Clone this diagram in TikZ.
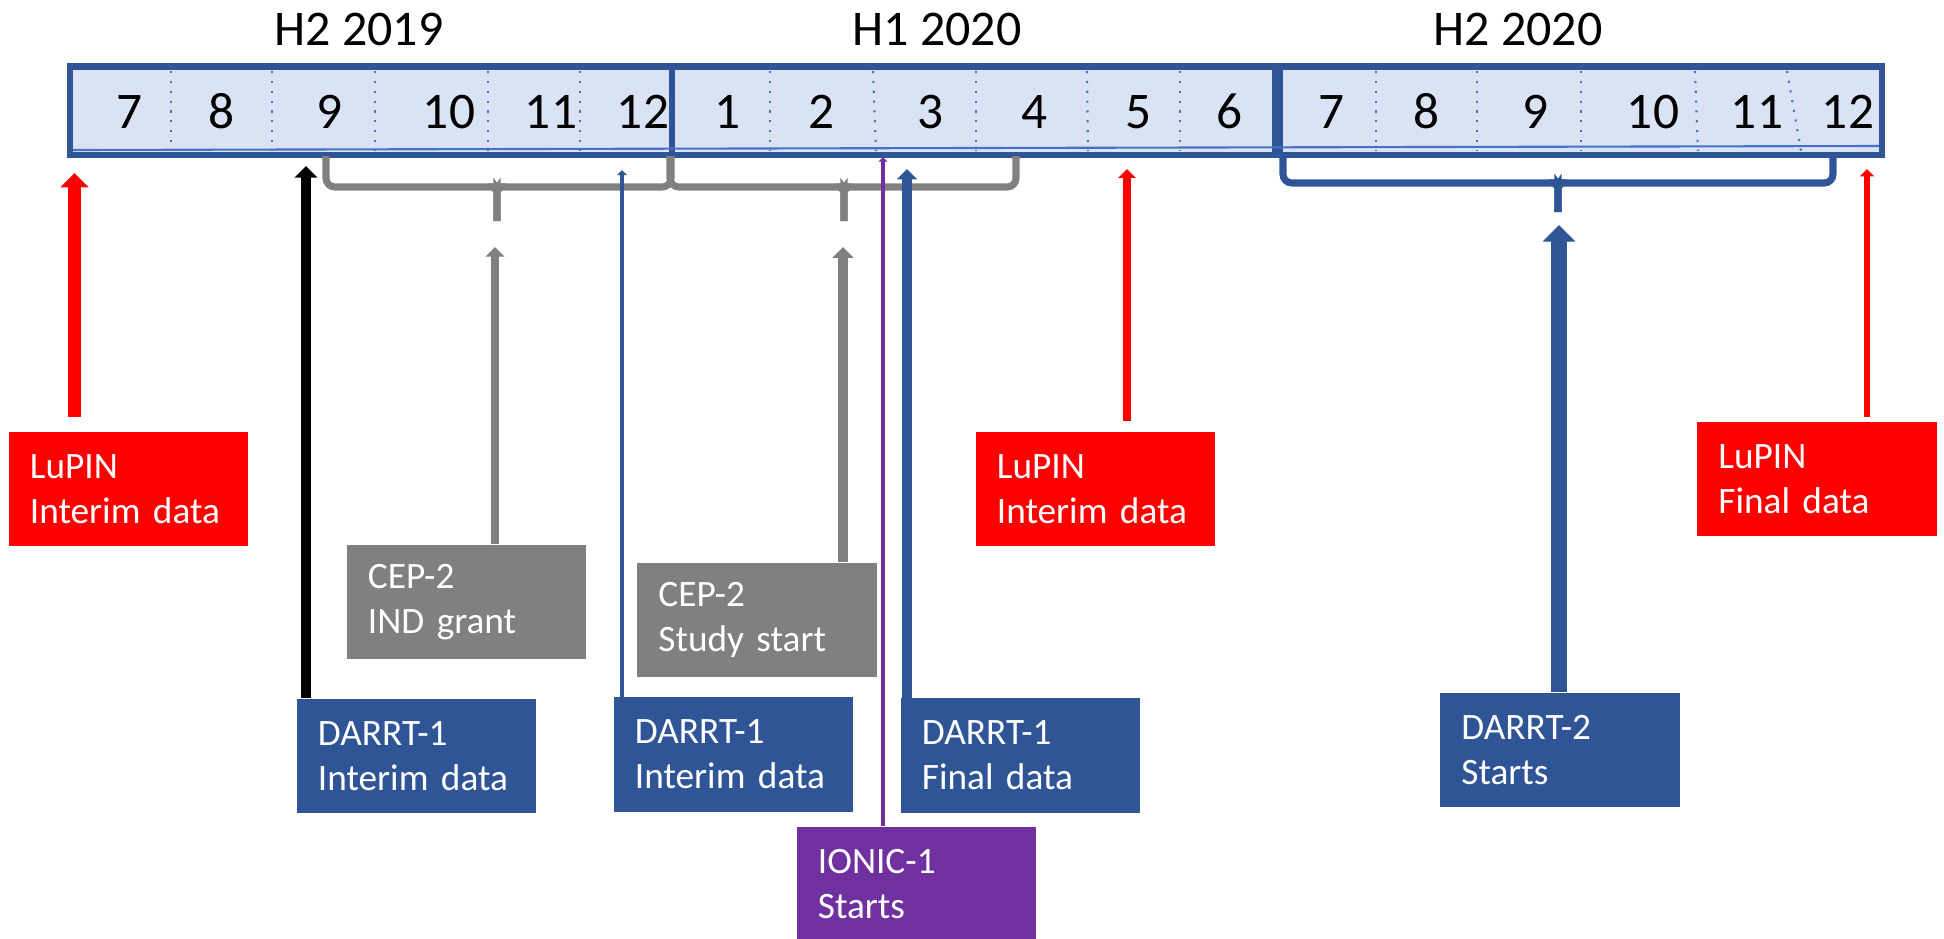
\documentclass[tikz,border=0pt]{standalone}
\usepackage{fontspec}
\setmainfont{Carlito}
\usepackage{tikz}
\usetikzlibrary{arrows.meta}
\definecolor{RoadBlue}{HTML}{2F5597}
\definecolor{RoadPale}{HTML}{DAE3F3}
\definecolor{RoadDot}{HTML}{4472C4}
\definecolor{RoadRed}{HTML}{FF0000}
\definecolor{RoadGray}{HTML}{808080}
\definecolor{RoadPurple}{HTML}{7030A0}
% curly bracket under a span of months: colour, left x, middle x, right x, bar y, tip y
\newcommand{\curly}[6]{%
  \draw[curly=#1] (#2,156) |- ([xshift=-3pt]#3,#5) to[out=0,in=90] ([yshift=-3pt]#3,#5) -- (#3,#6);
  \draw[curly=#1] (#3,#6) -- ([yshift=-3pt]#3,#5) to[out=90,in=180] ([xshift=3pt]#3,#5) -| (#4,156);}

\begin{document}
\begin{tikzpicture}[
  x=0.01cm, y=-0.01cm,
  every node/.style={font=\fontsize{10.6}{12.8}\selectfont},
  half/.style={draw=RoadBlue, line width=1.8pt, fill=RoadPale, minimum height=0.885cm, inner sep=0pt},
  period/.style={font=\fontsize{14.2}{17}\selectfont, anchor=base},
  month/.style={font=\fontsize{14.6}{17}\selectfont, anchor=base},
  divider/.style={draw=RoadDot, line width=0.6pt, dash pattern=on 0.6pt off 2.2pt},
  card/.style={fill=#1, text=white, minimum width=2.39cm, minimum height=1.14cm, text width=1.97cm, inner xsep=0.21cm, inner ysep=0pt, align=left},
  rise/.style={line width=#1, -{Triangle[length=0pt 1.1, width=0pt 2.1]}},
  curly/.style={draw=#1, line width=2pt, rounded corners=2.5pt}
]
\useasboundingbox (0,0) rectangle (1944,939);

% timeline bar
\node[half, minimum width=6.015cm] (h2a) at (371.25,110.75) {};
\node[half, minimum width=6.03cm] (h1b) at (973.5,110.75) {};
\node[half, minimum width=6.015cm] (h2b) at (1580.75,110.75) {};
\foreach \a/\b in {171/171,272/272,375/375,488/488,580/580,770/770,873/876,976/976,1087/1088,1180/1180,1376/1376,1477/1477,1581/1581,1695/1698,1787/1801}
  \draw[divider] (\a,71) -- (\b,151);
\draw[RoadDot, line width=0.6pt] (73,150) -- (1879,146);
\node[period] (lab-h2a) at (359,45) {H2 2019};
\node[period] (lab-h1b) at (937,45) {H1 2020};
\node[period] (lab-h2b) at (1518,45) {H2 2020};
\foreach \m/\x [count=\i] in {7/129.5,8/222,9/330,10/449,11/551,12/643,1/728,2/822,3/931,4/1035,5/1139,6/1230,7/1332,8/1427,9/1535.5,10/1653,11/1757,12/1848}
  \node[month] (m\i) at (\x,128) {\m};

% brackets
\curly{RoadGray}{326}{497}{671}{187}{221}
\curly{RoadGray}{670}{844}{1016}{187}{221}
\curly{RoadBlue}{1283}{1558}{1833}{183}{212}

% events
\node[card=RoadRed] (lupinA) at (128.5,489) {LuPIN\\Interim data};
\node[card=RoadGray] (cepA) at (466.5,602) {CEP-2\\IND grant};
\node[card=RoadBlue] (darrtA) at (416.5,756) {DARRT-1\\Interim data};
\node[card=RoadGray] (cepB) at (757,620) {CEP-2\\Study start};
\node[card=RoadBlue] (darrtB) at (733.5,754.5) {DARRT-1\\Interim data};
\node[card=RoadPurple] (ionic) at (916.5,884) {IONIC-1\\Starts};
\node[card=RoadBlue] (darrtC) at (1020.5,755.5) {DARRT-1\\Final data};
\node[card=RoadRed] (lupinB) at (1095.5,489) {LuPIN\\Interim data};
\node[card=RoadBlue] (darrtD) at (1560,750) {DARRT-2\\Starts};
\node[card=RoadRed] (lupinC) at (1817,479) {LuPIN\\Final data};

\coordinate (t-lupinA) at (74.5,173);
\coordinate (t-darrtA) at (306,166);
\coordinate (t-cepA) at (495,247);
\coordinate (t-darrtB) at (622,170);
\coordinate (t-cepB) at (843,247);
\coordinate (t-ionic) at (883,157);
\coordinate (t-darrtC) at (907,169);
\coordinate (t-lupinB) at (1127,169);
\coordinate (t-darrtD) at (1559,225);
\coordinate (t-lupinC) at (1867,169);

\draw[rise=3.7pt, RoadRed] ([yshift=4pt]t-lupinA |- lupinA.north) -- (t-lupinA);
\draw[rise=3pt, black] (t-darrtA |- darrtA.north) -- (t-darrtA);
\draw[rise=2.5pt, RoadGray] (t-cepA |- cepA.north) -- (t-cepA);
\draw[rise=1.3pt, RoadBlue] (t-darrtB |- darrtB.north) -- (t-darrtB);
\draw[rise=2.8pt, RoadGray] (t-cepB |- cepB.north) -- (t-cepB);
\draw[rise=1.2pt, RoadPurple] (t-ionic |- ionic.north) -- (t-ionic);
\draw[rise=2.7pt, RoadBlue] (t-darrtC |- darrtC.north) -- (t-darrtC);
\draw[rise=2.3pt, RoadRed] ([yshift=2.85pt]t-lupinB |- lupinB.north) -- (t-lupinB);
\draw[rise=4.3pt, RoadBlue] (t-darrtD |- darrtD.north) -- (t-darrtD);
\draw[rise=1.9pt, RoadRed] ([yshift=1.1pt]t-lupinC |- lupinC.north) -- (t-lupinC);
\end{tikzpicture}
\end{document}
